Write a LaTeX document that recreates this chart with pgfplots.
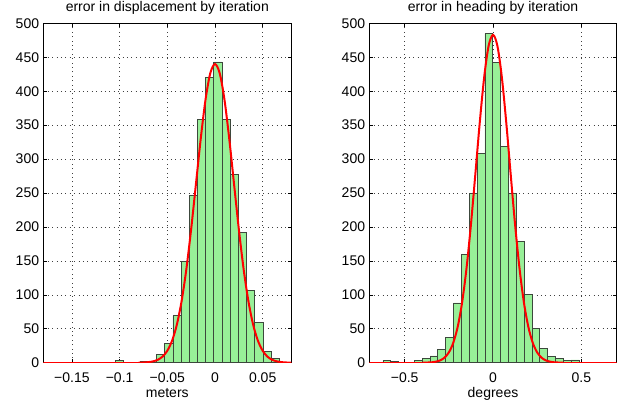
\documentclass[border=0pt]{standalone}
\usepackage{fontspec}
\setmainfont{Liberation Sans}
\usepackage{pgfplots}
\pgfplotsset{compat=1.18}

\definecolor{bargreen}{RGB}{152,240,152}
\definecolor{baredge}{RGB}{60,72,60}

\pgfplotsset{
    histo/.style={
            scale only axis,
            width=248bp, height=339.4bp,
            ymin=0, ymax=500,
            ytick={0,50,...,500},
            tick align=inside,
            major tick length=3.5bp,
            xmajorgrids, ymajorgrids,
            grid style={black!75, line width=0.6bp, dash pattern=on 0.8bp off 3.6bp},
            axis line style={line width=0.8bp},
            major tick style={black, line width=0.6bp},
            font=\fontsize{14bp}{16bp}\selectfont,
            /pgf/number format/assume math mode=true,
            yticklabel style={anchor=east, inner sep=0pt, xshift=-4bp},
            xticklabel style={anchor=base, inner sep=0pt, yshift=-20bp},
            every axis title shift=0pt,
            title style={at={(0.5,1)}, anchor=base, inner sep=0pt, yshift=12.3bp},
            xlabel style={at={(0.5,0)}, anchor=base, inner sep=0pt, yshift=-34.5bp},
        },
    bars/.style={ybar interval, fill=bargreen, draw=baredge, line width=0.8bp},
    fit/.style={red, line width=2bp},
}

\begin{document}
\begin{tikzpicture}

    % displacement error histogram
    \begin{axis}[
            histo,
            at={(43.3bp,45.3bp)}, anchor=south west,
            xmin=-0.18, xmax=0.08,
            xtick={-0.15,-0.1,-0.05,0,0.05},
            xticklabels={−0.15,−0.1,−0.05,0,0.05},
            title={error in displacement by iteration},
            xlabel={meters},
        ]
        \addplot [bars] table {
                -0.1042 3
                -0.0956 0
                -0.0870 0
                -0.0784 2
                -0.0699 0
                -0.0613 12
                -0.0527 29
                -0.0441 69
                -0.0355 149
                -0.0270 247
                -0.0184 358
                -0.0098 420
                -0.0012 443
                0.0074 358
                0.0160 277
                0.0245 192
                0.0331 106
                0.0417 59
                0.0503 16
                0.0589 6
                0.0674 6
            };
        \addplot [fit] coordinates {(-0.18,0) (-0.08,0)};
        \addplot [fit, smooth] table {
                -0.080 0.1
                -0.075 0.3
                -0.070 0.8
                -0.065 1.9
                -0.060 4.3
                -0.055 8.9
                -0.050 17.6
                -0.045 32.4
                -0.040 56.0
                -0.035 90.8
                -0.030 138.0
                -0.025 196.7
                -0.020 262.8
                -0.015 329.3
                -0.010 386.8
                -0.005 426.1
                0.000 440.0
                0.005 426.1
                0.010 386.8
                0.015 329.3
                0.020 262.8
                0.025 196.7
                0.030 138.0
                0.035 90.8
                0.040 56.0
                0.045 32.4
                0.050 17.6
                0.055 8.9
                0.060 4.3
                0.065 1.9
                0.070 0.8
                0.075 0.3
                0.080 0.1
            };
    \end{axis}

    % heading error histogram
    \begin{axis}[
            histo,
            at={(369.3bp,45.3bp)}, anchor=south west,
            width=247.4bp,
            xmin=-0.7, xmax=0.7,
            xtick={-0.5,0,0.5},
            xticklabels={−0.5,0,0.5},
            title={error in heading by iteration},
            xlabel={degrees},
        ]
        \addplot [bars] table {
                -0.6226 3
                -0.5782 2
                -0.5339 0
                -0.4895 0
                -0.4451 3
                -0.4008 6
                -0.3564 10
                -0.3120 20
                -0.2677 37
                -0.2233 88
                -0.1789 159
                -0.1346 249
                -0.0902 308
                -0.0458 485
                -0.0015 442
                0.0429 318
                0.0873 249
                0.1316 179
                0.1760 101
                0.2204 51
                0.2647 21
                0.3091 9
                0.3535 6
                0.3978 3
                0.4422 4
                0.4866 4
            };
        \addplot [fit] coordinates {(-0.7,0) (-0.4,0)};
        \addplot [fit] coordinates {(0.4,0) (0.7,0)};
        \addplot [fit, smooth] table {
                -0.400 0.1
                -0.375 0.2
                -0.350 0.5
                -0.325 1.4
                -0.300 3.3
                -0.275 7.3
                -0.250 15.1
                -0.225 29.2
                -0.200 52.7
                -0.175 88.5
                -0.150 138.9
                -0.125 203.2
                -0.100 277.6
                -0.075 353.7
                -0.050 420.5
                -0.025 466.6
                0.000 483.0
                0.025 466.6
                0.050 420.5
                0.075 353.7
                0.100 277.6
                0.125 203.2
                0.150 138.9
                0.175 88.5
                0.200 52.7
                0.225 29.2
                0.250 15.1
                0.275 7.3
                0.300 3.3
                0.325 1.4
                0.350 0.5
                0.375 0.2
                0.400 0.1
            };
    \end{axis}

    \pgfresetboundingbox
    \path [use as bounding box] (0,0) rectangle (623bp,408bp);
\end{tikzpicture}
\end{document}
